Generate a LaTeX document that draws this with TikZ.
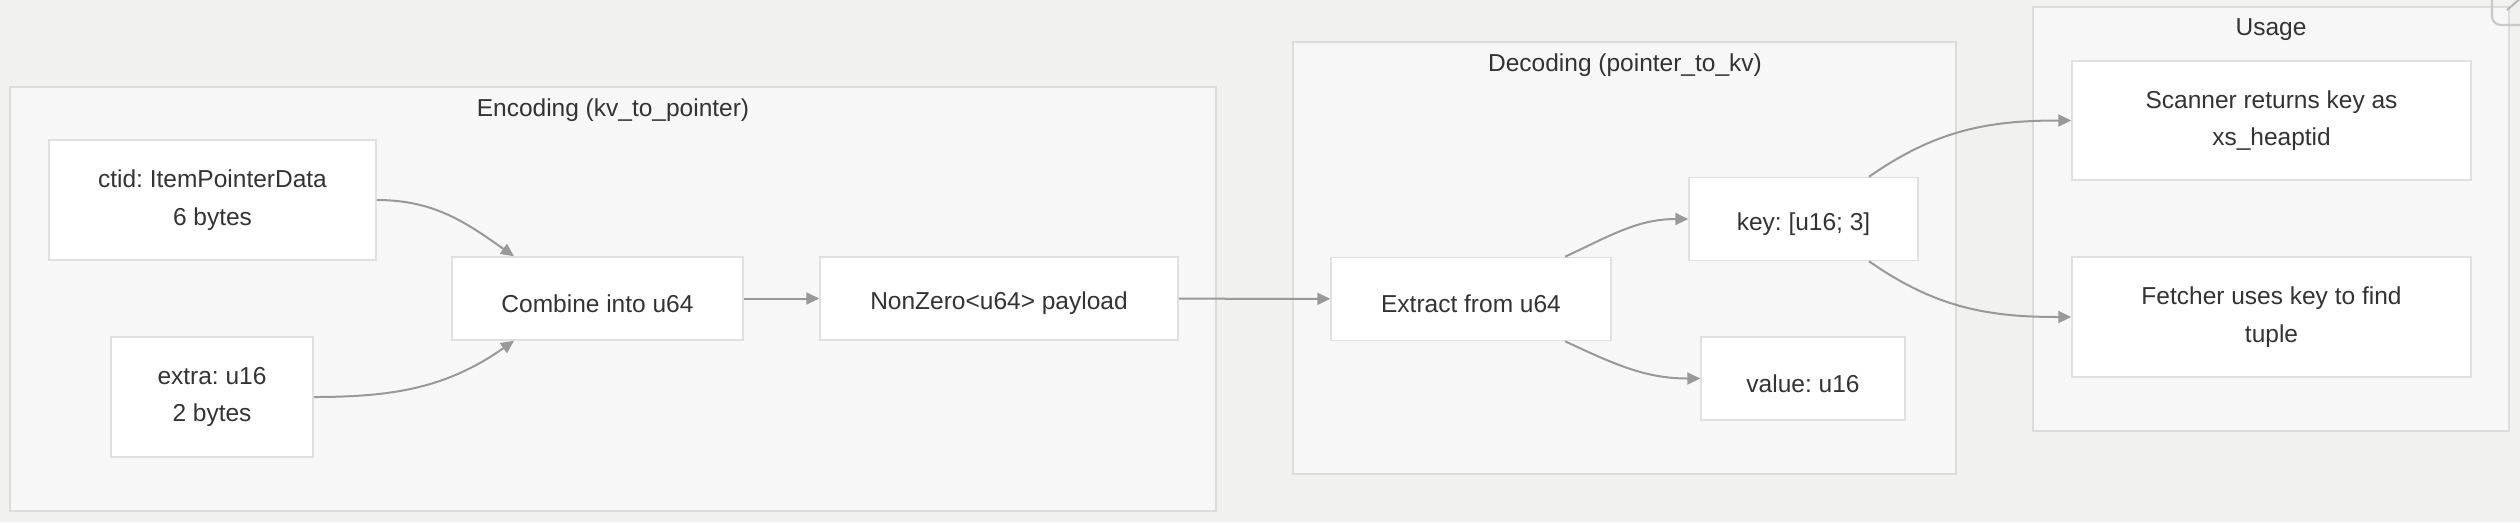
\documentclass[tikz,border=0pt]{standalone}
\usepackage{fontspec}
\setmainfont{Liberation Sans}
\frenchspacing
\usetikzlibrary{arrows.meta,calc}

\definecolor{pagebg}{HTML}{F1F1F0}
\definecolor{clusterbg}{HTML}{F7F7F7}
\definecolor{clusterline}{HTML}{DCDCDC}
\definecolor{boxline}{HTML}{E0E0E0}
\definecolor{edgegray}{HTML}{999999}
\definecolor{textgray}{HTML}{333333}

\tikzset{
  box/.style={draw=boxline, fill=white, line width=0.6pt, align=center,
    inner sep=0pt, minimum height=33.2pt, text=textgray,
    font=\fontsize{9.8}{15}\selectfont,
    execute at begin node={\rule{0pt}{11pt}}},
  cluster/.style={draw=clusterline, fill=clusterbg, line width=0.6pt},
  clustertitle/.style={text=textgray, inner sep=0pt,
    font=\fontsize{9.8}{15}\selectfont},
  arr/.style={draw=edgegray, line width=0.8pt,
    -{Triangle[length=5.2pt,width=4.8pt]}}
}

\begin{document}
\begin{tikzpicture}[x=0.4pt, y=-0.4pt]
  \fill[pagebg] (0,0) rectangle (2520,522);
  \clip (0,0) rectangle (2520,522);
  \useasboundingbox (0,0) rectangle (2520,522);

  % subgraphs
  \draw[cluster] (10,87) rectangle (1216,511);
  \draw[cluster] (1293,42) rectangle (1956,474);
  \draw[cluster] (2033,7) rectangle (2509,431);
  \node[clustertitle] (enctitle) at (613,110) {Encoding (kv\_to\_pointer)};
  \node[clustertitle] (dectitle) at (1625,65) {Decoding (pointer\_to\_kv)};
  \node[clustertitle] (usetitle) at (2271,30) {Usage};

  % encoding
  \node[box, minimum width=130.8pt, minimum height=48pt] (ctid) at (212.5,200) {ctid: ItemPointerData\\6 bytes};
  \node[box, minimum width=80.8pt, minimum height=48pt] (extra) at (212,397) {extra: u16\\2 bytes};
  \node[box, minimum width=116.4pt] (combine) at (597.5,298.5) {Combine into u64};
  \node[box, minimum width=143.2pt] (nonzero) at (999,298.5) {NonZero<u64> payload};

  % decoding
  \node[box, minimum width=112pt] (extract) at (1471,299) {Extract from u64};
  \node[box, minimum width=91.6pt] (key) at (1803.5,219) {key: [u16; 3]};
  \node[box, minimum width=81.6pt] (value) at (1803,378.5) {value: u16};

  % usage
  \node[box, minimum width=159.6pt, minimum height=47.6pt] (scanner) at (2271.5,120.5) {Scanner returns key as\\xs\_heaptid};
  \node[box, minimum width=159.6pt, minimum height=48pt] (fetcher) at (2271.5,317) {Fetcher uses key to find\\tuple};

  % edges
  \draw[arr] (ctid.east) to[out=0, in=145] ([xshift=-33.4pt]combine.north);
  \draw[arr] (extra.east) to[out=0, in=215] ([xshift=-33.4pt]combine.south);
  \draw[arr] (combine) -- (nonzero);
  \draw[arr] (nonzero) -- (extract);
  \draw[arr] ([xshift=37.6pt]extract.north) to[out=25, in=180] (key.west);
  \draw[arr] ([xshift=37.6pt]extract.south) to[out=-25, in=180] (value.west);
  \draw[arr] ([xshift=26.2pt]key.north) to[out=35, in=180] (scanner.west);
  \draw[arr] ([xshift=26.2pt]key.south) to[out=-35, in=180] (fetcher.west);

  % corner icon
  \draw[draw=clusterline!80!gray, line width=0.9pt, rounded corners=3.5pt] (2492,-20) rectangle (2560,25);
  \draw[draw=clusterline!60!gray, line width=0.8pt] (2507,10) -- (2522,-3);
\end{tikzpicture}
\end{document}
